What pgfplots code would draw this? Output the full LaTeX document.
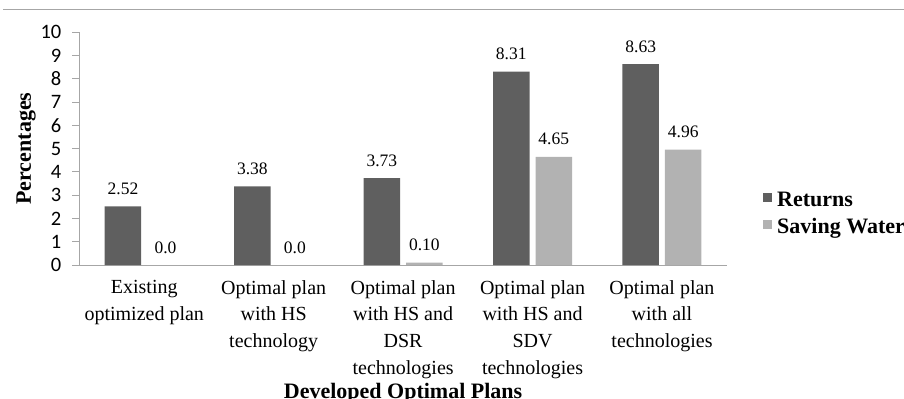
\documentclass[border=0pt]{standalone}
\usepackage{fontspec}
\setmainfont{Liberation Serif}
\newfontfamily\carlito{Carlito}
\usepackage{pgfplots}
\pgfplotsset{compat=1.18}
\usepackage{pgfplotstable}
\definecolor{retc}{HTML}{5F5F5F}
\definecolor{savc}{HTML}{B2B2B2}
\definecolor{axc}{HTML}{A6A6A6}
\pgfplotstableread{
x y lab
0 2.52 2.52
1 3.38 3.38
2 3.73 3.73
3 8.31 8.31
4 8.63 8.63
}\returns
\pgfplotstableread{
x y lab
0 0.0 0.0
1 0.0 0.0
2 0.10 0.10
3 4.65 4.65
4 4.96 4.96
}\saving
\begin{document}
\begin{tikzpicture}[x=1bp,y=1bp]
\useasboundingbox (0,0) rectangle (904,398);
\draw[axc, line width=1bp] (3,388) -- (904,388);
\begin{axis}[
  at={(79.5bp,133bp)}, anchor=south west,
  scale only axis, width=647.2bp, height=232.7bp,
  xmin=-0.5, xmax=4.5, ymin=0, ymax=10,
  ytick={0,1,...,10},
  xtick=data,
  xticklabels={{Existing\\optimized plan},{Optimal plan\\with HS\\technology},{Optimal plan\\with HS and\\DSR\\technologies},{Optimal plan\\with HS and\\SDV\\technologies},{Optimal plan\\with all\\technologies}},
  axis x line*=bottom, axis y line*=left,
  axis line style={draw=axc, line width=1bp, -},
  x tick style={draw=none},
  y tick style={draw=axc, line width=1bp},
  tick align=outside, major tick length=7bp,
  /pgf/number format/assume math mode=true,
  yticklabel style={font=\fontsize{20.5bp}{24bp}\carlito, inner sep=0pt, xshift=-11bp},
  xticklabel style={font=\fontsize{20bp}{26.8bp}\selectfont, align=center, anchor=north, inner sep=0pt, yshift=-8bp},
  ylabel={\fontsize{22bp}{26bp}\selectfont\bfseries Percentages},
  ylabel style={at={(axis description cs:-0.0827,0.5)}, anchor=center},
  xlabel={\fontsize{22bp}{26bp}\selectfont\bfseries Developed Optimal Plans},
  xlabel style={at={(axis description cs:0.5,0)}, anchor=base, yshift=-133bp},
  ybar, bar width=36.5bp,
  nodes near coords,
  point meta=explicit symbolic,
  every node near coord/.append style={font=\fontsize{17.5bp}{20bp}\selectfont, anchor=base, yshift=12bp, inner sep=0pt},
  legend style={at={(1.0515,0.215)}, anchor=west, draw=none, fill=none,
    font=\fontsize{22bp}{26bp}\selectfont\bfseries, row sep=6bp, column sep=5bp,
    nodes={inner sep=0pt, text height=16bp, text depth=5bp, anchor=west}},
  legend cell align=left,
  legend image code/.code={\fill[#1] (0bp,-1bp) rectangle (9bp,8bp);},
]
\addplot[fill=retc, draw=none, bar shift=-21.25bp] table[x=x,y=y,meta=lab] {\returns};
\addplot[fill=savc, draw=none, bar shift=21.25bp] table[x=x,y=y,meta=lab] {\saving};
\legend{Returns, Saving Water}
\end{axis}
\end{tikzpicture}
\end{document}
